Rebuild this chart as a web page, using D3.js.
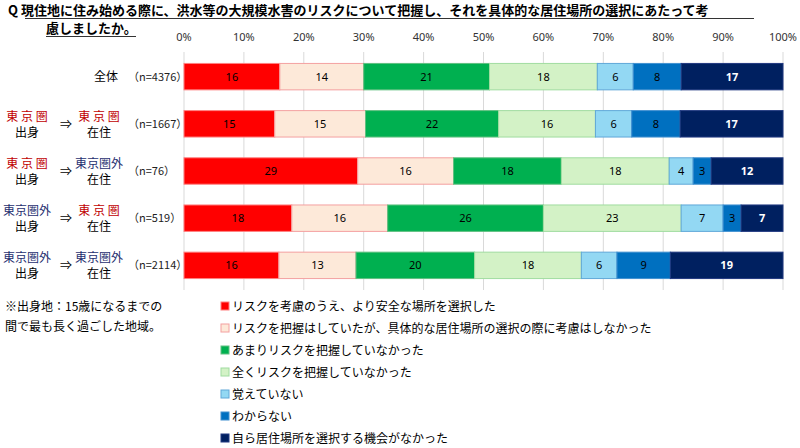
<!DOCTYPE html><html><head><meta charset="utf-8"><script src="https://cdn.jsdelivr.net/npm/d3@7"></script>
<style>body{margin:0;background:#fff;font-family:"Noto Sans CJK JP",sans-serif}</style></head><body><svg id="c" width="800" height="448"></svg>
<script>
const seriesNames=["リスクを考慮のうえ、より安全な場所を選択した","リスクを把握はしていたが、具体的な居住場所の選択の際に考慮はしなかった","あまりリスクを把握していなかった","全くリスクを把握していなかった","覚えていない","わからない","自ら居住場所を選択する機会がなかった"];
const fills=["#ff0000","#fde9d9","#00b050","#d3f2c6","#93d8f3","#0070c0","#002060"];
const strokes=["#ff8080","#f4a0a0","#60c080","#a0dca0","#60a8d8","#4090d0","#203880"];
const textCol=["#000","#000","#000","#000","#000","#000","#fff"];
const rows=[
 {from:null,to:null,label:"全体",n:"(n=4376)",v:[16,14,21,18,6,8,17]},
 {from:"東 京 圏",fc:"#c00000",to:"東 京 圏",tc:"#c00000",n:"(n=1667)",v:[15,15,22,16,6,8,17]},
 {from:"東 京 圏",fc:"#c00000",to:"東京圏外",tc:"#1f3070",n:"(n=76)",v:[29,16,18,18,4,3,12]},
 {from:"東京圏外",fc:"#1f3070",to:"東 京 圏",tc:"#c00000",n:"(n=519)",v:[18,16,26,23,7,3,7]},
 {from:"東京圏外",fc:"#1f3070",to:"東京圏外",tc:"#1f3070",n:"(n=2114)",v:[16,13,20,18,6,9,19]}];
const ticks=[0,10,20,30,40,50,60,70,80,90,100];
const svg=d3.select("#c");
const x=d3.scaleLinear().domain([0,100]).range([184,783]);
const y=d3.scaleBand().domain(d3.range(rows.length)).range([54,288]).paddingInner(0.44).paddingOuter(0.2);
svg.append("text").attr("x",8).attr("y",15).attr("font-size",13).attr("font-weight","bold").text("Q  現住地に住み始める際に、洪水等の大規模水害のリスクについて把握し、それを具体的な居住場所の選択にあたって考");
svg.append("text").attr("x",46).attr("y",33).attr("font-size",13).attr("font-weight","bold").text("慮しましたか。");
svg.append("line").attr("x1",25).attr("x2",754).attr("y1",18.5).attr("y2",18.5).attr("stroke","#333");
svg.append("line").attr("x1",46).attr("x2",136).attr("y1",36.5).attr("y2",36.5).attr("stroke","#333");
const ax=svg.append("g");
ticks.forEach(t=>{ax.append("line").attr("x1",x(t)).attr("x2",x(t)).attr("y1",52).attr("y2",290).attr("stroke","#d9d9d9");
 ax.append("text").attr("x",x(t)).attr("y",41).attr("text-anchor","middle").attr("font-size",11).attr("font-family","Noto Sans").attr("fill","#333").text(t+"%");});
rows.forEach((r,i)=>{
 const tot=d3.sum(r.v);let acc=0;const yy=y(i),h=y.bandwidth(),cy=yy+h/2;
 r.v.forEach((v,j)=>{const x0=x(acc/tot*100);acc+=v;const x1=x(acc/tot*100);
  svg.append("rect").attr("x",x0).attr("y",yy).attr("width",x1-x0).attr("height",h).attr("fill",fills[j]).attr("stroke",strokes[j]).attr("stroke-width",1);
  svg.append("text").attr("x",(x0+x1)/2).attr("y",cy+4).attr("text-anchor","middle").attr("font-size",11).attr("font-family","Noto Sans").attr("font-weight",j==6?"bold":"normal").attr("fill",textCol[j]).text(v);});
 svg.append("text").attr("x",128).attr("y",cy+4).attr("font-size",11).attr("fill","#222").text(r.n.replace("(","（").replace(")","）"));
 if(!r.from){svg.append("text").attr("x",118).attr("y",cy+4).attr("text-anchor","end").attr("font-size",12).text(r.label);}
 else{
  svg.append("text").attr("x",27).attr("y",cy-3).attr("text-anchor","middle").attr("font-size",12).attr("fill",r.fc).text(r.from);
  svg.append("text").attr("x",27).attr("y",cy+13).attr("text-anchor","middle").attr("font-size",12).text("出身");
  svg.append("text").attr("x",66).attr("y",cy+5).attr("text-anchor","middle").attr("font-size",12).text("⇒");
  svg.append("text").attr("x",99).attr("y",cy-3).attr("text-anchor","middle").attr("font-size",12).attr("fill",r.tc).text(r.to);
  svg.append("text").attr("x",99).attr("y",cy+13).attr("text-anchor","middle").attr("font-size",12).text("在住");}
});
svg.append("text").attr("x",5).attr("y",311).attr("font-size",12).text("※出身地：15歳になるまでの");
svg.append("text").attr("x",5).attr("y",331).attr("font-size",12).text("間で最も長く過ごした地域。");
seriesNames.forEach((s,j)=>{const yy=307+j*22;
 svg.append("rect").attr("x",221).attr("y",yy-5).attr("width",8).attr("height",8).attr("fill",fills[j]).attr("stroke",strokes[j]);
 svg.append("text").attr("x",232).attr("y",yy+4).attr("font-size",12).text(s);});
</script></body></html>
